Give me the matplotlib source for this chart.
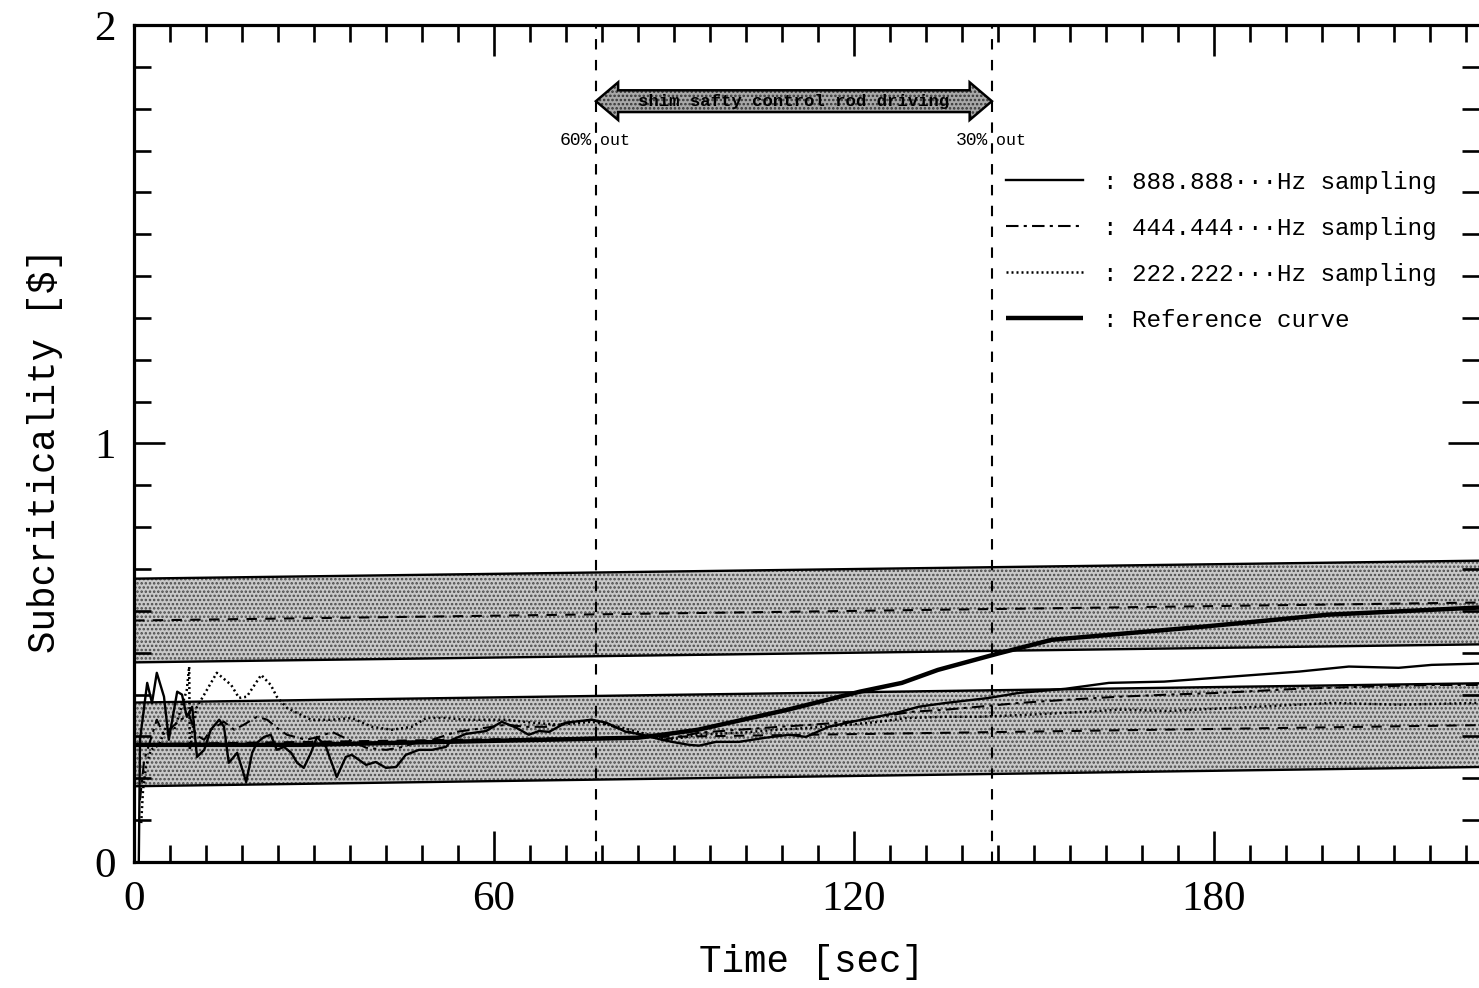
import matplotlib
matplotlib.use("Agg")
import matplotlib.pyplot as plt
from matplotlib.patches import Polygon
from matplotlib.ticker import MultipleLocator
import numpy as np

# ---------------- data ----------------
t_max = 224.2

# 888.888... Hz sampling
t_888 = [0.8, 1.0, 2.2, 3.0, 3.8, 5.0, 5.8, 7.2, 8.0, 8.8, 9.7, 10.5, 11.7, 12.8, 14.2,
         15.0, 15.8, 17.2, 18.7, 19.7, 20.5, 21.7, 22.8, 23.8, 25.0, 26.2, 27.2, 28.3,
         29.5, 30.5, 32.0, 33.8, 35.3, 36.3, 38.7, 40.3, 42.0, 43.7, 45.3, 47.5, 49.7,
         52.0, 53.0, 55.3, 58.7, 61.3, 63.7, 65.8, 67.5, 69.2, 72.0, 76.3, 78.7, 82.0,
         84.2, 88.0, 89.7, 92.5, 94.2, 97.0, 100.8, 105.3, 109.2, 112.0, 115.8, 121.3,
         127.0, 130.8, 135.3, 142.5, 147.5, 155.3, 162.5, 171.7, 183.0, 194.2, 202.5,
         210.8, 216.3, 224.0]
v_888 = [0.0, 0.292, 0.428, 0.380, 0.452, 0.395, 0.292, 0.407, 0.400, 0.347, 0.371, 0.251,
         0.268, 0.316, 0.340, 0.323, 0.237, 0.261, 0.191, 0.261, 0.285, 0.299, 0.304,
         0.268, 0.275, 0.261, 0.237, 0.225, 0.261, 0.299, 0.275, 0.203, 0.251, 0.256,
         0.232, 0.239, 0.225, 0.227, 0.256, 0.268, 0.268, 0.275, 0.292, 0.306, 0.313,
         0.335, 0.321, 0.304, 0.313, 0.311, 0.333, 0.340, 0.333, 0.311, 0.306, 0.292,
         0.287, 0.280, 0.278, 0.287, 0.287, 0.297, 0.304, 0.299, 0.323, 0.340, 0.356,
         0.371, 0.380, 0.392, 0.404, 0.414, 0.428, 0.431, 0.443, 0.455, 0.467, 0.464,
         0.471, 0.474]

# 444.444... Hz sampling
t_444 = [1.0, 1.7, 2.5, 3.8, 5.0, 6.2, 7.8, 9.2, 10.3, 11.7, 12.8, 15.0, 16.7, 18.3, 20.5,
         22.2, 23.8, 25.5, 28.7, 30.8, 33.0, 35.8, 38.7, 42.0, 44.2, 47.5, 49.7, 53.7,
         56.3, 58.7, 62.0, 65.3, 68.7, 72.5, 76.3, 80.0, 84.2, 88.3, 94.2, 100.8, 107.5,
         113.0, 119.2, 124.2, 129.7, 135.3, 140.8, 147.5, 155.8, 164.2, 172.5, 180.8,
         194.2, 205.3, 216.3, 224.0]
v_444 = [0.148, 0.244, 0.280, 0.340, 0.304, 0.321, 0.340, 0.352, 0.304, 0.292, 0.316,
         0.335, 0.316, 0.328, 0.347, 0.340, 0.321, 0.304, 0.292, 0.299, 0.311, 0.292,
         0.273, 0.268, 0.273, 0.287, 0.292, 0.311, 0.316, 0.321, 0.328, 0.323, 0.323,
         0.333, 0.340, 0.323, 0.304, 0.292, 0.309, 0.316, 0.323, 0.328, 0.335, 0.347,
         0.359, 0.364, 0.371, 0.380, 0.388, 0.395, 0.400, 0.404, 0.414, 0.419, 0.423,
         0.423]

# 222.222... Hz sampling
t_222 = [1.2, 1.5, 2.0, 2.8, 4.2, 5.5, 6.7, 7.8, 8.8, 9.2, 9.3, 10.0, 10.5, 11.7, 13.8,
         16.2, 17.5, 18.8, 21.2, 22.8, 23.8, 25.5, 27.2, 29.5, 33.0, 36.3, 39.7, 43.0,
         46.3, 48.7, 52.0, 55.3, 58.7, 62.0, 66.3, 70.8, 76.3, 80.8, 85.8, 89.2, 94.2,
         100.8, 107.5, 113.0, 119.2, 124.2, 128.7, 135.3, 140.8, 149.2, 158.7, 164.2,
         172.5, 183.0, 199.7, 210.8, 224.0]
v_222 = [0.093, 0.172, 0.227, 0.268, 0.280, 0.328, 0.316, 0.364, 0.411, 0.467, 0.268,
         0.340, 0.371, 0.400, 0.452, 0.423, 0.392, 0.395, 0.447, 0.423, 0.395, 0.368,
         0.356, 0.340, 0.340, 0.344, 0.323, 0.316, 0.323, 0.344, 0.344, 0.340, 0.340,
         0.340, 0.333, 0.328, 0.335, 0.323, 0.304, 0.292, 0.304, 0.309, 0.316, 0.321,
         0.328, 0.335, 0.344, 0.347, 0.347, 0.352, 0.359, 0.364, 0.361, 0.368, 0.380,
         0.376, 0.380]

# Reference curve
t_ref = [0, 28, 68, 84, 88, 94, 109, 121, 128, 134, 144, 153, 178, 199, 224.2]
v_ref = [0.280, 0.280, 0.292, 0.297, 0.304, 0.316, 0.364, 0.407, 0.428, 0.459, 0.498,
         0.531, 0.562, 0.591, 0.608]

# Tolerance bands (centre at start / end of record, half width)
band_t = [0, t_max]
lower_band_center = [0.281, 0.327]
upper_band_center = [0.577, 0.620]
band_half_width = 0.1

# Shim/safety control rod driving interval
rod_start, rod_end = 77, 143
rod_start_label = ("60%", "out")
rod_end_label = ("30%", "out")
rod_text = "shim safty control rod driving"

legend_labels = [": 888.888\u00b7\u00b7\u00b7Hz sampling",
                 ": 444.444\u00b7\u00b7\u00b7Hz sampling",
                 ": 222.222\u00b7\u00b7\u00b7Hz sampling",
                 ": Reference curve"]

# ---------------- style ----------------
MONO = ["Liberation Mono", "DejaVu Sans Mono"]
SERIF = ["Liberation Serif", "DejaVu Serif"]
plt.rcParams["font.family"] = SERIF
plt.rcParams["hatch.linewidth"] = 1.2

fig = plt.figure(figsize=(14.79, 9.88), dpi=100)
ax = fig.add_axes([134 / 1479, 126 / 988, 1345 / 1479, 837 / 988])
ax.set_xlim(0, t_max)
ax.set_ylim(0, 2)

# bands
for centre in (lower_band_center, upper_band_center):
    c = np.asarray(centre)
    ax.fill_between(band_t, c - band_half_width, c + band_half_width,
                    facecolor="#c9c9c9", edgecolor="#4a4a4a", hatch="....",
                    linewidth=0, zorder=1)
    ax.plot(band_t, c + band_half_width, color="black", lw=1.7, zorder=2)
    ax.plot(band_t, c - band_half_width, color="black", lw=1.7, zorder=2)
    ax.plot(band_t, c, color="black", lw=1.5, ls=(0, (5, 4)), zorder=2)

# rod-driving markers
for tv in (rod_start, rod_end):
    ax.axvline(tv, color="black", lw=1.5, ls=(0, (5, 5)), zorder=2)

# sampled curves and reference
l888, = ax.plot(t_888, v_888, color="black", lw=1.7, zorder=4)
l444, = ax.plot(t_444, v_444, color="black", lw=1.5, ls=(0, (6, 2.5, 1.5, 2.5)), zorder=4)
l222, = ax.plot(t_222, v_222, color="black", lw=1.8, ls=(0, (0.8, 1.2)), zorder=4)
lref, = ax.plot(t_ref, v_ref, color="black", lw=3.2, zorder=5,
                solid_capstyle="butt")

# double-headed arrow for the rod-driving interval
arrow_v = 1.818
head_len = 3.7
head_half = 0.045
body_half = 0.026
arrow_pts = [(rod_start, arrow_v),
             (rod_start + head_len, arrow_v + head_half),
             (rod_start + head_len, arrow_v + body_half),
             (rod_end - head_len, arrow_v + body_half),
             (rod_end - head_len, arrow_v + head_half),
             (rod_end, arrow_v),
             (rod_end - head_len, arrow_v - head_half),
             (rod_end - head_len, arrow_v - body_half),
             (rod_start + head_len, arrow_v - body_half),
             (rod_start + head_len, arrow_v - head_half)]
ax.add_patch(Polygon(arrow_pts, closed=True, facecolor="#a8a8a8",
                     edgecolor="#333333", lw=0, hatch="....", zorder=6))
ax.add_patch(Polygon(arrow_pts, closed=True, facecolor="none",
                     edgecolor="black", lw=1.8, zorder=7))
ax.text((rod_start + rod_end) / 2, arrow_v, rod_text, ha="center", va="center",
        fontsize=12.5, fontweight="bold", family=MONO, zorder=8)

label_v = 1.725
for tv, (pct, word) in ((rod_start, rod_start_label), (rod_end, rod_end_label)):
    ax.annotate(pct, xy=(tv, label_v), xytext=(-3, 0), textcoords="offset points",
                ha="right", va="center", fontsize=13, family=MONO)
    ax.annotate(word, xy=(tv, label_v), xytext=(3, 0), textcoords="offset points",
                ha="left", va="center", fontsize=12, family=MONO)

# axes frame and ticks
ax.xaxis.set_major_locator(MultipleLocator(60))
ax.xaxis.set_minor_locator(MultipleLocator(6))
ax.yaxis.set_major_locator(MultipleLocator(1))
ax.yaxis.set_minor_locator(MultipleLocator(0.1))
ax.tick_params(which="both", direction="in", top=True, right=True, width=1.9,
               color="black")
ax.tick_params(which="major", length=22, labelsize=31, pad=13)
ax.tick_params(which="minor", length=12)
for side in ("left", "bottom", "top"):
    ax.spines[side].set_linewidth(2.3)
ax.spines["right"].set_visible(False)

ax.set_xlabel("Time [sec]", fontsize=27, family=MONO)
ax.xaxis.set_label_coords(0.504, -0.119)
ax.xaxis.label.set_va("center")
ax.set_ylabel("Subcriticality [$]", fontsize=27, family=MONO)
ax.yaxis.set_label_coords(-0.066, 0.492)
ax.yaxis.label.set_va("center")
ax.yaxis.label.set_ha("center")

ax.legend([l888, l444, l222, lref], legend_labels, loc="upper left",
          bbox_to_anchor=(0.648, 0.826), frameon=False,
          prop={"family": MONO, "size": 17.5}, handlelength=3.2,
          handletextpad=0.8, labelspacing=0.95, borderaxespad=0, borderpad=0)

fig.savefig("out.png", dpi=100)
